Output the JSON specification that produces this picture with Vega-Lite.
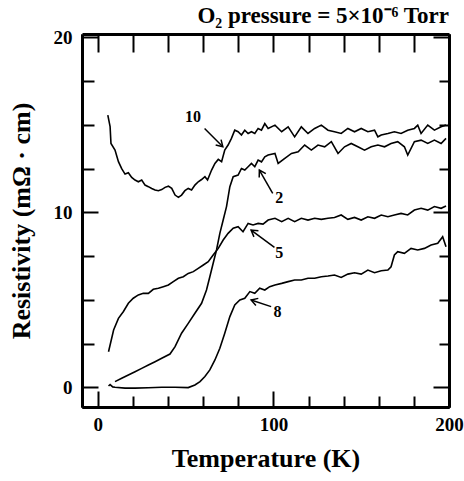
{
  "$schema": "https://vega.github.io/schema/vega-lite/v6.json",
  "width": 367,
  "height": 373,
  "autosize": {"type": "none"},
  "padding": {"left": 82, "top": 34, "right": 15, "bottom": 74},
  "background": "white",
  "title": {"text": "O₂ pressure = 5×10⁻⁶ Torr", "anchor": "end", "frame": "group", "font": "Liberation Serif", "fontSize": 23, "fontWeight": "bold", "color": "black", "offset": 0},
  "config": {
    "view": {"stroke": null},
    "axis": {"grid": false, "domainColor": "black", "domainWidth": 3, "tickColor": "black", "tickWidth": 2, "labelColor": "black", "labelFont": "Liberation Serif", "labelFontWeight": "bold", "labelFontSize": 19, "labelFlush": false, "labelOverlap": false, "titleColor": "black", "titleFont": "Liberation Serif", "titleFontWeight": "bold", "titleFontSize": 26}
  },
  "datasets": {
    "curves": [
      {"s":"10","T":5.7,"R":15.56},{"s":"10","T":7.0,"R":14.9},{"s":"10","T":7.5,"R":13.94},{"s":"10","T":9.8,"R":13.56},{"s":"10","T":11.75,"R":12.9},{"s":"10","T":13.6,"R":12.5},{"s":"10","T":15.5,"R":12.19},{"s":"10","T":17.4,"R":12.27},{"s":"10","T":19.3,"R":12.0},{"s":"10","T":21.2,"R":11.85},{"s":"10","T":23.1,"R":11.75},{"s":"10","T":25,"R":11.85},{"s":"10","T":26.9,"R":11.56},{"s":"10","T":28.8,"R":11.47},{"s":"10","T":30.7,"R":11.37},{"s":"10","T":32.6,"R":11.28},{"s":"10","T":34.5,"R":11.24},{"s":"10","T":36.4,"R":11.3},{"s":"10","T":38.3,"R":11.43},{"s":"10","T":40.2,"R":11.5},{"s":"10","T":42.1,"R":11.37},{"s":"10","T":44,"R":10.99},{"s":"10","T":45.9,"R":10.86},{"s":"10","T":47.7,"R":10.99},{"s":"10","T":49.6,"R":11.24},{"s":"10","T":51.5,"R":11.37},{"s":"10","T":53.4,"R":11.28},{"s":"10","T":55.3,"R":11.56},{"s":"10","T":57.2,"R":11.75},{"s":"10","T":59.1,"R":11.88},{"s":"10","T":61,"R":12.04},{"s":"10","T":62.5,"R":11.85},{"s":"10","T":64.8,"R":12.42},{"s":"10","T":66.7,"R":12.8},{"s":"10","T":68.6,"R":13.03},{"s":"10","T":70.5,"R":12.9},{"s":"10","T":72.3,"R":13.56},{"s":"10","T":74.2,"R":13.85},{"s":"10","T":76.1,"R":14.23},{"s":"10","T":78,"R":14.7},{"s":"10","T":79.9,"R":14.61},{"s":"10","T":81.8,"R":14.42},{"s":"10","T":83.7,"R":14.7},{"s":"10","T":85.6,"R":14.51},{"s":"10","T":87.5,"R":14.61},{"s":"10","T":89.4,"R":14.51},{"s":"10","T":91.3,"R":14.8},{"s":"10","T":93.2,"R":14.7},{"s":"10","T":95.1,"R":15.08},{"s":"10","T":97,"R":14.8},{"s":"10","T":100.9,"R":14.99},{"s":"10","T":104.7,"R":14.61},{"s":"10","T":108.4,"R":14.89},{"s":"10","T":112.1,"R":14.32},{"s":"10","T":115.9,"R":14.89},{"s":"10","T":119.7,"R":14.51},{"s":"10","T":123.5,"R":14.8},{"s":"10","T":127.3,"R":14.99},{"s":"10","T":131.1,"R":14.7},{"s":"10","T":134.8,"R":14.61},{"s":"10","T":138.6,"R":14.51},{"s":"10","T":142.4,"R":14.8},{"s":"10","T":146.2,"R":14.61},{"s":"10","T":150,"R":14.8},{"s":"10","T":153.8,"R":14.61},{"s":"10","T":157.6,"R":14.7},{"s":"10","T":159.5,"R":14.32},{"s":"10","T":161.4,"R":14.42},{"s":"10","T":165.2,"R":14.51},{"s":"10","T":168.9,"R":14.61},{"s":"10","T":172.7,"R":14.51},{"s":"10","T":176.5,"R":14.7},{"s":"10","T":180.3,"R":14.8},{"s":"10","T":182.2,"R":14.99},{"s":"10","T":184.1,"R":14.51},{"s":"10","T":187.9,"R":14.99},{"s":"10","T":191.7,"R":14.7},{"s":"10","T":195.5,"R":14.89},{"s":"10","T":198.3,"R":14.99},
      {"s":"2","T":9.8,"R":0.32},{"s":"2","T":13.6,"R":0.51},{"s":"2","T":17.4,"R":0.7},{"s":"2","T":21.2,"R":0.89},{"s":"2","T":25,"R":1.08},{"s":"2","T":28.8,"R":1.27},{"s":"2","T":32.6,"R":1.46},{"s":"2","T":36.4,"R":1.66},{"s":"2","T":41.1,"R":1.9},{"s":"2","T":44,"R":2.32},{"s":"2","T":47.7,"R":3.09},{"s":"2","T":51.5,"R":3.65},{"s":"2","T":55.3,"R":4.23},{"s":"2","T":59.1,"R":4.8},{"s":"2","T":61.9,"R":5.56},{"s":"2","T":63.8,"R":6.32},{"s":"2","T":65.7,"R":7.09},{"s":"2","T":67.6,"R":7.85},{"s":"2","T":69.5,"R":8.8},{"s":"2","T":71.4,"R":9.56},{"s":"2","T":73.3,"R":10.33},{"s":"2","T":75.2,"R":11.47},{"s":"2","T":77.1,"R":12.04},{"s":"2","T":79.9,"R":12.13},{"s":"2","T":81.8,"R":12.51},{"s":"2","T":83.7,"R":12.42},{"s":"2","T":85.6,"R":12.61},{"s":"2","T":87.5,"R":12.8},{"s":"2","T":89.4,"R":12.61},{"s":"2","T":91.3,"R":12.99},{"s":"2","T":93.2,"R":12.89},{"s":"2","T":95.1,"R":13.18},{"s":"2","T":97,"R":13.28},{"s":"2","T":100.9,"R":13.37},{"s":"2","T":102.7,"R":12.8},{"s":"2","T":106.5,"R":13.09},{"s":"2","T":110.3,"R":13.37},{"s":"2","T":114.1,"R":13.47},{"s":"2","T":117.8,"R":13.85},{"s":"2","T":121.6,"R":13.56},{"s":"2","T":125.4,"R":13.85},{"s":"2","T":129.2,"R":13.75},{"s":"2","T":133,"R":14.04},{"s":"2","T":136.8,"R":13.37},{"s":"2","T":140.5,"R":13.75},{"s":"2","T":144.3,"R":13.94},{"s":"2","T":148.1,"R":13.75},{"s":"2","T":151.9,"R":13.56},{"s":"2","T":155.7,"R":13.75},{"s":"2","T":159.5,"R":13.85},{"s":"2","T":163.3,"R":13.75},{"s":"2","T":167,"R":13.94},{"s":"2","T":170.8,"R":14.04},{"s":"2","T":174.6,"R":13.75},{"s":"2","T":176.5,"R":13.28},{"s":"2","T":180.3,"R":14.04},{"s":"2","T":184.1,"R":14.13},{"s":"2","T":187.9,"R":13.94},{"s":"2","T":191.7,"R":14.13},{"s":"2","T":195.5,"R":13.94},{"s":"2","T":198.3,"R":14.23},
      {"s":"5","T":6.1,"R":2.03},{"s":"5","T":9,"R":3.27},{"s":"5","T":11.75,"R":3.94},{"s":"5","T":14.6,"R":4.33},{"s":"5","T":17.4,"R":4.8},{"s":"5","T":20.2,"R":5.09},{"s":"5","T":23.1,"R":5.28},{"s":"5","T":25.9,"R":5.37},{"s":"5","T":28.8,"R":5.37},{"s":"5","T":31.6,"R":5.6},{"s":"5","T":34.5,"R":5.66},{"s":"5","T":37.3,"R":5.75},{"s":"5","T":40.2,"R":5.85},{"s":"5","T":43,"R":6.04},{"s":"5","T":45.9,"R":6.23},{"s":"5","T":48.7,"R":6.32},{"s":"5","T":51.5,"R":6.51},{"s":"5","T":54.4,"R":6.61},{"s":"5","T":57.2,"R":6.8},{"s":"5","T":60.1,"R":6.99},{"s":"5","T":62.9,"R":7.18},{"s":"5","T":65.7,"R":7.56},{"s":"5","T":68.6,"R":7.94},{"s":"5","T":71.4,"R":8.42},{"s":"5","T":74.2,"R":8.8},{"s":"5","T":77.1,"R":9.09},{"s":"5","T":79.9,"R":9.18},{"s":"5","T":82.7,"R":8.89},{"s":"5","T":85.6,"R":9.37},{"s":"5","T":88.4,"R":9.28},{"s":"5","T":91.3,"R":9.37},{"s":"5","T":94.1,"R":9.33},{"s":"5","T":97,"R":9.56},{"s":"5","T":100.9,"R":9.66},{"s":"5","T":104.7,"R":9.47},{"s":"5","T":108.4,"R":9.66},{"s":"5","T":112.1,"R":9.47},{"s":"5","T":115.9,"R":9.66},{"s":"5","T":119.7,"R":9.56},{"s":"5","T":123.5,"R":9.66},{"s":"5","T":127.3,"R":9.6},{"s":"5","T":131.1,"R":9.66},{"s":"5","T":134.8,"R":9.71},{"s":"5","T":138.6,"R":9.85},{"s":"5","T":142.4,"R":9.6},{"s":"5","T":146.2,"R":9.71},{"s":"5","T":150,"R":9.56},{"s":"5","T":153.8,"R":9.75},{"s":"5","T":157.6,"R":9.66},{"s":"5","T":161.4,"R":9.85},{"s":"5","T":165.2,"R":9.75},{"s":"5","T":168.9,"R":9.85},{"s":"5","T":172.7,"R":9.94},{"s":"5","T":176.5,"R":9.85},{"s":"5","T":180.3,"R":10.13},{"s":"5","T":184.1,"R":10.23},{"s":"5","T":187.9,"R":10.13},{"s":"5","T":191.7,"R":10.33},{"s":"5","T":195.5,"R":10.23},{"s":"5","T":198.3,"R":10.36},
      {"s":"8","T":6.1,"R":0.07},{"s":"8","T":7,"R":0.15},{"s":"8","T":8.5,"R":0.02},{"s":"8","T":9.8,"R":0.0},{"s":"8","T":15.5,"R":-0.05},{"s":"8","T":21.2,"R":-0.05},{"s":"8","T":28.8,"R":-0.03},{"s":"8","T":36.4,"R":0.0},{"s":"8","T":44,"R":0.0},{"s":"8","T":51.5,"R":-0.02},{"s":"8","T":55.3,"R":0.13},{"s":"8","T":58.2,"R":0.32},{"s":"8","T":61,"R":0.61},{"s":"8","T":63.8,"R":0.99},{"s":"8","T":66.7,"R":1.56},{"s":"8","T":69.5,"R":2.23},{"s":"8","T":72.3,"R":3.09},{"s":"8","T":75.2,"R":4.04},{"s":"8","T":78,"R":4.71},{"s":"8","T":80.9,"R":4.99},{"s":"8","T":83.7,"R":5.09},{"s":"8","T":86.6,"R":5.47},{"s":"8","T":89.4,"R":5.37},{"s":"8","T":92.2,"R":5.66},{"s":"8","T":95.1,"R":5.56},{"s":"8","T":97.9,"R":5.75},{"s":"8","T":100.9,"R":5.85},{"s":"8","T":104.7,"R":5.94},{"s":"8","T":108.4,"R":6.04},{"s":"8","T":112.1,"R":6.13},{"s":"8","T":115.9,"R":6.13},{"s":"8","T":119.7,"R":6.23},{"s":"8","T":123.5,"R":6.23},{"s":"8","T":127.3,"R":6.32},{"s":"8","T":131.1,"R":6.36},{"s":"8","T":134.8,"R":6.42},{"s":"8","T":138.6,"R":6.28},{"s":"8","T":142.4,"R":6.47},{"s":"8","T":146.2,"R":6.55},{"s":"8","T":150,"R":6.47},{"s":"8","T":153.8,"R":6.7},{"s":"8","T":157.6,"R":6.55},{"s":"8","T":161.4,"R":6.66},{"s":"8","T":165.2,"R":6.7},{"s":"8","T":167,"R":6.89},{"s":"8","T":168.9,"R":7.56},{"s":"8","T":170.8,"R":7.75},{"s":"8","T":174.6,"R":7.66},{"s":"8","T":178.4,"R":7.94},{"s":"8","T":182.2,"R":7.85},{"s":"8","T":186,"R":7.94},{"s":"8","T":189.8,"R":8.13},{"s":"8","T":193.6,"R":8.23},{"s":"8","T":196.4,"R":8.61},{"s":"8","T":198.3,"R":8.04}
    ],
    "labels": [
      {"lab":"10","T":54.2,"R":15.46,"T1":60.8,"R1":14.8,"T2":71.2,"R2":13.75},
      {"lab":"2","T":103.4,"R":10.8,"T1":99.6,"R1":11.09,"T2":92,"R2":12.42},
      {"lab":"5","T":103.4,"R":7.66,"T1":100.6,"R1":8.0,"T2":87.3,"R2":8.99},
      {"lab":"8","T":102.4,"R":4.32,"T1":98.7,"R1":4.61,"T2":87.3,"R2":4.99}
    ]
  },
  "resolve": {"axis": {"x": "independent", "y": "independent"}},
  "layer": [
    {
      "data": {"name": "curves"},
      "mark": {"type": "line", "color": "black", "strokeWidth": 1.6, "interpolate": "linear"},
      "encoding": {
        "x": {"field": "T", "type": "quantitative", "scale": {"domain": [-9, 200], "nice": false, "zero": false},
          "axis": {"orient": "bottom", "values": [0, 100, 200], "tickSize": -16, "labelPadding": 24,
            "title": "Temperature (K)", "titlePadding": 11}},
        "y": {"field": "R", "type": "quantitative", "scale": {"domain": [-1.13, 20.2], "nice": false, "zero": false},
          "axis": {"orient": "left", "values": [0, 10, 20], "tickSize": -16, "labelPadding": 26,
            "title": "Resistivity (mΩ · cm)", "titlePadding": 19}},
        "detail": {"field": "s"},
        "order": {"field": "T", "type": "quantitative"}
      }
    },
    {
      "data": {"name": "labels"},
      "mark": {"type": "text", "font": "Liberation Serif", "fontWeight": "bold", "fontSize": 16, "color": "black", "align": "center", "baseline": "middle"},
      "encoding": {
        "x": {"field": "T", "type": "quantitative", "scale": {"domain": [-9, 200], "nice": false, "zero": false},
          "axis": {"orient": "top", "values": [0,20,40,60,80,100,120,140,160,180,200], "tickSize": -18, "labels": false, "title": null}},
        "y": {"field": "R", "type": "quantitative", "scale": {"domain": [-1.13, 20.2], "nice": false, "zero": false},
          "axis": {"orient": "right", "values": [0, 10, 20], "tickSize": -16, "labels": false, "title": null}},
        "text": {"field": "lab"}
      }
    },
    {
      "data": {"name": "labels"},
      "mark": {"type": "rule", "color": "black", "strokeWidth": 1.5},
      "encoding": {
        "x": {"field": "T1", "type": "quantitative", "scale": {"domain": [-9, 200], "nice": false, "zero": false},
          "axis": {"orient": "bottom", "values": [20,40,60,80,120,140,160,180], "tickSize": -11, "labels": false, "title": null}},
        "y": {"field": "R1", "type": "quantitative", "scale": {"domain": [-1.13, 20.2], "nice": false, "zero": false},
          "axis": {"orient": "left", "values": [2.5,5,7.5,12.5,15,17.5], "tickSize": -12, "labels": false, "title": null}},
        "x2": {"field": "T2"},
        "y2": {"field": "R2"}
      }
    },
    {
      "data": {"name": "labels"},
      "mark": {"type": "point", "shape": "M-1,-0.6L0,0L-1,0.6", "filled": false, "color": "black", "strokeWidth": 1.5, "size": 160, "opacity": 1,
        "angle": {"expr": "atan2(scale('y', datum.R2) - scale('y', datum.R1), scale('x', datum.T2) - scale('x', datum.T1)) * 180 / PI"}},
      "encoding": {
        "x": {"field": "T2", "type": "quantitative", "scale": {"domain": [-9, 200], "nice": false, "zero": false}, "axis": null},
        "y": {"field": "R2", "type": "quantitative", "scale": {"domain": [-1.13, 20.2], "nice": false, "zero": false},
          "axis": {"orient": "right", "values": [2.5,5,7.5,12.5,15,17.5], "tickSize": -10, "labels": false, "title": null}}
      }
    }
  ]
}
